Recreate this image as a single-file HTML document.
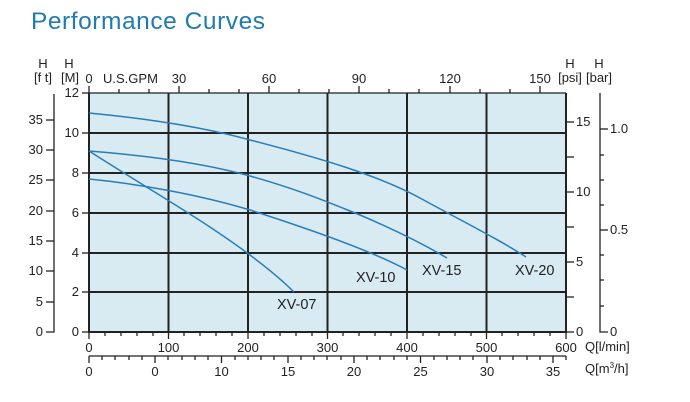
<!DOCTYPE html>
<html><head><meta charset="utf-8"><style>
html,body{margin:0;padding:0;background:#fff;}
svg{display:block;font-family:"Liberation Sans",sans-serif;}
</style></head><body>
<svg width="690" height="402" viewBox="0 0 690 402" xmlns="http://www.w3.org/2000/svg">
<text x="31" y="29" font-size="24.5" fill="#1f7bb0" textLength="234">Performance Curves</text>
<rect x="89" y="93" width="477" height="239" fill="#d8ebf2"/>
<g stroke="#222" stroke-width="2">
<line x1="89" y1="133" x2="566" y2="133"/><line x1="89" y1="173" x2="566" y2="173"/>
<line x1="89" y1="213" x2="566" y2="213"/><line x1="89" y1="253" x2="566" y2="253"/>
<line x1="89" y1="292" x2="566" y2="292"/>
<line x1="168.5" y1="93" x2="168.5" y2="332"/><line x1="248" y1="93" x2="248" y2="332"/>
<line x1="327.5" y1="93" x2="327.5" y2="332"/><line x1="407" y1="93" x2="407" y2="332"/>
<line x1="486.5" y1="93" x2="486.5" y2="332"/>
<line x1="89" y1="93" x2="89" y2="332"/><line x1="566" y1="93" x2="566" y2="332"/>
<line x1="88" y1="332" x2="567" y2="332"/>
</g>
<g stroke="#222" stroke-width="1.3" fill="none">
<line x1="89" y1="93" x2="566" y2="93"/>
<line x1="82" y1="93" x2="89" y2="93"/><line x1="82" y1="133" x2="89" y2="133"/><line x1="82" y1="173" x2="89" y2="173"/>
<line x1="82" y1="213" x2="89" y2="213"/><line x1="82" y1="253" x2="89" y2="253"/><line x1="82" y1="292" x2="89" y2="292"/><line x1="82" y1="332" x2="89" y2="332"/>
<polyline points="54,94 54,332 46,332"/>
<line x1="46" y1="302" x2="54" y2="302"/><line x1="46" y1="271" x2="54" y2="271"/><line x1="46" y1="241" x2="54" y2="241"/>
<line x1="46" y1="211" x2="54" y2="211"/><line x1="46" y1="180" x2="54" y2="180"/><line x1="46" y1="150" x2="54" y2="150"/><line x1="46" y1="120" x2="54" y2="120"/>
<line x1="566" y1="122" x2="574" y2="122"/><line x1="566" y1="157" x2="574" y2="157"/><line x1="566" y1="192" x2="574" y2="192"/>
<line x1="566" y1="227" x2="574" y2="227"/><line x1="566" y1="262" x2="574" y2="262"/><line x1="566" y1="297" x2="574" y2="297"/><line x1="566" y1="332" x2="574" y2="332"/>
<polyline points="600,93 600,332 608,332"/>
<line x1="600" y1="129" x2="608" y2="129"/><line x1="600" y1="230" x2="608" y2="230"/>
<line x1="600" y1="155" x2="604" y2="155"/><line x1="600" y1="180" x2="604" y2="180"/><line x1="600" y1="205" x2="604" y2="205"/>
<line x1="600" y1="255" x2="604" y2="255"/><line x1="600" y1="280" x2="604" y2="280"/><line x1="600" y1="306" x2="604" y2="306"/>
<line x1="89" y1="86" x2="89" y2="93"/><line x1="179" y1="86" x2="179" y2="93"/><line x1="269" y1="86" x2="269" y2="93"/>
<line x1="359" y1="86" x2="359" y2="93"/><line x1="450" y1="86" x2="450" y2="93"/><line x1="540" y1="86" x2="540" y2="93"/>
<line x1="119" y1="89" x2="119" y2="93"/><line x1="149" y1="89" x2="149" y2="93"/><line x1="209" y1="89" x2="209" y2="93"/><line x1="239" y1="89" x2="239" y2="93"/>
<line x1="299" y1="89" x2="299" y2="93"/><line x1="329" y1="89" x2="329" y2="93"/><line x1="389" y1="89" x2="389" y2="93"/><line x1="419" y1="89" x2="419" y2="93"/>
<line x1="480" y1="89" x2="480" y2="93"/><line x1="510" y1="89" x2="510" y2="93"/>
<g>
<line x1="105" y1="332" x2="105" y2="336"/><line x1="121" y1="332" x2="121" y2="336"/><line x1="137" y1="332" x2="137" y2="336"/><line x1="153" y1="332" x2="153" y2="336"/>
<line x1="184" y1="332" x2="184" y2="336"/><line x1="200" y1="332" x2="200" y2="336"/><line x1="216" y1="332" x2="216" y2="336"/><line x1="232" y1="332" x2="232" y2="336"/>
<line x1="264" y1="332" x2="264" y2="336"/><line x1="280" y1="332" x2="280" y2="336"/><line x1="296" y1="332" x2="296" y2="336"/><line x1="312" y1="332" x2="312" y2="336"/>
<line x1="343" y1="332" x2="343" y2="336"/><line x1="359" y1="332" x2="359" y2="336"/><line x1="375" y1="332" x2="375" y2="336"/><line x1="391" y1="332" x2="391" y2="336"/>
<line x1="423" y1="332" x2="423" y2="336"/><line x1="439" y1="332" x2="439" y2="336"/><line x1="455" y1="332" x2="455" y2="336"/><line x1="471" y1="332" x2="471" y2="336"/>
<line x1="502" y1="332" x2="502" y2="336"/><line x1="518" y1="332" x2="518" y2="336"/><line x1="534" y1="332" x2="534" y2="336"/><line x1="550" y1="332" x2="550" y2="336"/>
<line x1="168.5" y1="332" x2="168.5" y2="339"/><line x1="248" y1="332" x2="248" y2="339"/><line x1="327.5" y1="332" x2="327.5" y2="339"/>
<line x1="407" y1="332" x2="407" y2="339"/><line x1="486.5" y1="332" x2="486.5" y2="339"/><line x1="566" y1="332" x2="566" y2="339"/><line x1="89" y1="332" x2="89" y2="339"/>
</g>
<line x1="89" y1="356" x2="566" y2="356"/>
<line x1="89" y1="356" x2="89" y2="363"/><line x1="155" y1="356" x2="155" y2="363"/><line x1="221.5" y1="356" x2="221.5" y2="363"/>
<line x1="288" y1="356" x2="288" y2="363"/><line x1="354" y1="356" x2="354" y2="363"/><line x1="420.5" y1="356" x2="420.5" y2="363"/>
<line x1="487" y1="356" x2="487" y2="363"/><line x1="553" y1="356" x2="553" y2="363"/>
<line x1="102" y1="356" x2="102" y2="360"/><line x1="115" y1="356" x2="115" y2="360"/><line x1="129" y1="356" x2="129" y2="360"/><line x1="142" y1="356" x2="142" y2="360"/>
<line x1="168" y1="356" x2="168" y2="360"/><line x1="182" y1="356" x2="182" y2="360"/><line x1="195" y1="356" x2="195" y2="360"/><line x1="208" y1="356" x2="208" y2="360"/>
<line x1="235" y1="356" x2="235" y2="360"/><line x1="248" y1="356" x2="248" y2="360"/><line x1="261" y1="356" x2="261" y2="360"/><line x1="274" y1="356" x2="274" y2="360"/>
<line x1="301" y1="356" x2="301" y2="360"/><line x1="314" y1="356" x2="314" y2="360"/><line x1="327" y1="356" x2="327" y2="360"/><line x1="341" y1="356" x2="341" y2="360"/>
<line x1="367" y1="356" x2="367" y2="360"/><line x1="380" y1="356" x2="380" y2="360"/><line x1="394" y1="356" x2="394" y2="360"/><line x1="407" y1="356" x2="407" y2="360"/>
<line x1="434" y1="356" x2="434" y2="360"/><line x1="447" y1="356" x2="447" y2="360"/><line x1="460" y1="356" x2="460" y2="360"/><line x1="473" y1="356" x2="473" y2="360"/>
<line x1="500" y1="356" x2="500" y2="360"/><line x1="513" y1="356" x2="513" y2="360"/><line x1="527" y1="356" x2="527" y2="360"/><line x1="540" y1="356" x2="540" y2="360"/>
<line x1="566" y1="356" x2="566" y2="360"/>
</g>
<g stroke="#2a7cb8" stroke-width="1.5" fill="none">
<path d="M89,113 C140,118 200,126 250,140 C320,158 380,176 420,198 C460,220 500,240 526,257"/>
<path d="M89,151 C140,155 200,162 250,176 C300,190 330,203 360,215 C400,232 430,248 447,258"/>
<path d="M89,179 C140,184 200,195 250,210 C300,226 370,250 407,270"/>
<path d="M89,151 C150,190 200,218 250,255 C270,270 285,283 294,292"/>
</g>
<g font-size="14.5" fill="#222">
<text x="277" y="309">XV-07</text><text x="356" y="282">XV-10</text>
<text x="422" y="275">XV-15</text><text x="515" y="275">XV-20</text>
</g>
<g font-size="13" fill="#222">
<text x="43" y="68" text-anchor="middle">H</text><text x="43" y="82" text-anchor="middle">[f t]</text>
<text x="69" y="68" text-anchor="middle">H</text><text x="70" y="82" text-anchor="middle">[M]</text>
<text x="570" y="68" text-anchor="middle">H</text><text x="570" y="82" text-anchor="middle">[psi]</text>
<text x="599" y="68" text-anchor="middle">H</text><text x="599" y="82" text-anchor="middle">[bar]</text>
<g text-anchor="middle">
<text x="89" y="83">0</text><text x="179" y="83">30</text><text x="269" y="83">60</text><text x="359" y="83">90</text><text x="450" y="83">120</text><text x="540" y="83">150</text>
<text x="89" y="352">0</text><text x="168.5" y="352">100</text><text x="248" y="352">200</text><text x="327.5" y="352">300</text><text x="407" y="352">400</text><text x="486.5" y="352">500</text><text x="566" y="352">600</text>
<text x="89" y="376">0</text><text x="155" y="376">0</text><text x="221.5" y="376">10</text><text x="288" y="376">15</text><text x="354" y="376">20</text><text x="420.5" y="376">25</text><text x="487" y="376">30</text><text x="553" y="376">35</text>
</g>
<text x="103" y="83">U.S.GPM</text>
<g text-anchor="end">
<text x="79" y="97">12</text><text x="79" y="137">10</text><text x="79" y="177">8</text><text x="79" y="217">6</text><text x="79" y="257">4</text><text x="79" y="296">2</text><text x="79" y="336">0</text>
<text x="43" y="124">35</text><text x="43" y="154">30</text><text x="43" y="184">25</text><text x="43" y="215">20</text><text x="43" y="245">15</text><text x="43" y="275">10</text><text x="43" y="306">5</text><text x="43" y="336">0</text>
</g>
<text x="576" y="126">15</text><text x="576" y="196">10</text><text x="576" y="266">5</text><text x="576" y="336">0</text>
<text x="610" y="133">1.0</text><text x="610" y="234">0.5</text><text x="610" y="336">0</text>
<text x="585" y="351">Q[l/min]</text>
<text x="585" y="373">Q[m<tspan font-size="8" dy="-5">3</tspan><tspan dy="5">/h]</tspan></text>
</g>
</svg>
</body></html>
